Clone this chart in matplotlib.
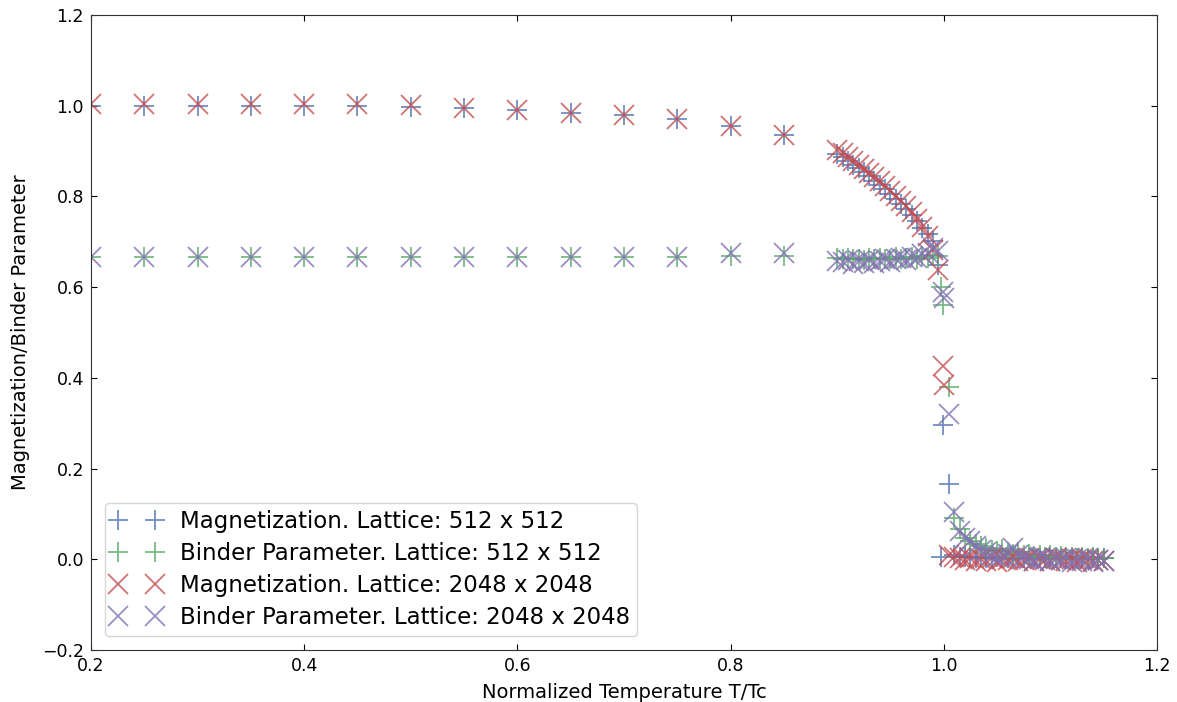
import matplotlib
matplotlib.use('Agg')
import matplotlib.pyplot as plt
import numpy as np

# Temperaturne tacke (normalizovano T/Tc)
t_coarse = [0.20, 0.25, 0.30, 0.35, 0.40, 0.45, 0.50, 0.55, 0.60, 0.65, 0.70, 0.75, 0.80, 0.85]
t_dense = [0.900, 0.905, 0.910, 0.915, 0.920, 0.925, 0.930, 0.935, 0.940, 0.945,
           0.950, 0.955, 0.960, 0.965, 0.970, 0.975, 0.980, 0.985, 0.990, 0.995]
t_crit = [0.997, 0.999, 1.000]
t_tail = [1.005, 1.010, 1.015, 1.020, 1.025, 1.030, 1.035, 1.040, 1.045, 1.050,
          1.055, 1.060, 1.065, 1.070, 1.075, 1.080, 1.085, 1.090, 1.095, 1.100,
          1.105, 1.110, 1.115, 1.120, 1.125, 1.130, 1.135, 1.140, 1.145, 1.150]

# Magnetizacija, resetka 512 x 512
mag512_coarse = [1.0, 1.0, 1.0, 1.0, 1.0, 1.0, 0.998, 0.995, 0.99, 0.985, 0.98, 0.97, 0.955, 0.935]
mag512_dense = [0.893, 0.886, 0.878, 0.870, 0.862, 0.853, 0.844, 0.835, 0.826, 0.816,
                0.806, 0.795, 0.784, 0.772, 0.758, 0.745, 0.730, 0.718, 0.702, 0.648]
mag512_crit = [0.005, 0.297, np.nan]
mag512_tail = [0.167, 0.010, 0.006, 0.004, 0.005, 0.003, 0.004, 0.002, 0.003, 0.004,
               0.002, 0.003, 0.001, 0.002, 0.003, 0.002, 0.001, 0.002, 0.002, 0.001,
               0.003, 0.002, 0.001, 0.002, 0.001, 0.002, 0.001, 0.002, 0.001, 0.002]

# Binderov parametar, resetka 512 x 512
binder512_coarse = [0.667, 0.667, 0.667, 0.667, 0.667, 0.667, 0.666, 0.666, 0.666, 0.666, 0.666, 0.667, 0.668, 0.668]
binder512_dense = [0.664, 0.662, 0.665, 0.661, 0.663, 0.660, 0.664, 0.662, 0.665, 0.661,
                   0.663, 0.666, 0.662, 0.664, 0.667, 0.663, 0.668, 0.665, 0.670, 0.668]
binder512_crit = [0.600, 0.560, np.nan]
binder512_tail = [0.380, 0.090, 0.066, 0.048, 0.040, 0.033, 0.030, 0.025, 0.020, 0.018,
                  0.022, 0.015, 0.012, 0.016, 0.010, 0.012, 0.008, 0.010, 0.006, 0.009,
                  0.005, 0.008, 0.004, 0.006, 0.003, 0.005, 0.002, 0.004, 0.003, 0.002]

# Magnetizacija, resetka 2048 x 2048
mag2048_coarse = [1.003, 1.003, 1.003, 1.003, 1.003, 1.003, 1.001, 0.995, 0.99, 0.985, 0.98, 0.97, 0.955, 0.935]
mag2048_dense = [0.903, 0.895, 0.887, 0.879, 0.870, 0.861, 0.852, 0.843, 0.833, 0.823,
                 0.813, 0.802, 0.791, 0.779, 0.766, 0.751, 0.733, 0.712, 0.683, 0.637]
mag2048_crit = [np.nan, 0.426, 0.385]
mag2048_tail = [0.010, 0.004, 0.002, -0.002, 0.003, -0.004, 0.001, -0.003, 0.002, -0.005,
                0.000, -0.002, 0.003, -0.004, -0.001, 0.002, -0.003, 0.001, -0.002, -0.004,
                0.002, -0.001, -0.003, 0.000, -0.005, 0.001, -0.002, -0.004, -0.001, -0.003]

# Binderov parametar, resetka 2048 x 2048
binder2048_coarse = [0.667, 0.667, 0.667, 0.667, 0.667, 0.667, 0.666, 0.666, 0.666, 0.666, 0.666, 0.667, 0.675, 0.675]
binder2048_dense = [0.658, 0.655, 0.660, 0.652, 0.657, 0.654, 0.659, 0.653, 0.658, 0.662,
                    0.656, 0.661, 0.664, 0.660, 0.667, 0.665, 0.672, 0.676, 0.686, 0.680]
binder2048_crit = [np.nan, 0.590, 0.575]
binder2048_tail = [0.320, 0.105, 0.062, 0.048, 0.040, 0.030, 0.020, 0.015, 0.010, 0.005,
                   0.008, 0.012, 0.025, 0.010, 0.004, 0.000, -0.003, 0.006, 0.002, -0.004,
                   0.001, -0.002, 0.003, -0.005, 0.000, -0.003, 0.002, -0.006, -0.001, -0.004]

labels = ['Magnetization. Lattice: 512 x 512',
          'Binder Parameter. Lattice: 512 x 512',
          'Magnetization. Lattice: 2048 x 2048',
          'Binder Parameter. Lattice: 2048 x 2048']

plt.rcParams['xtick.direction'] = 'in'
plt.rcParams['ytick.direction'] = 'in'
plt.rcParams['xtick.top'] = True
plt.rcParams['ytick.right'] = True
plt.rcParams['xtick.major.size'] = 4
plt.rcParams['ytick.major.size'] = 4

t_all = t_coarse + t_dense + t_crit + t_tail
serije = [
    (mag512_coarse + mag512_dense + mag512_crit + mag512_tail, '+', '#4C72B0'),
    (binder512_coarse + binder512_dense + binder512_crit + binder512_tail, '+', '#55A868'),
    (mag2048_coarse + mag2048_dense + mag2048_crit + mag2048_tail, 'x', '#C44E52'),
    (binder2048_coarse + binder2048_dense + binder2048_crit + binder2048_tail, 'x', '#8172B2'),
]

fig = plt.figure(figsize=(11.77, 7.02), dpi=100)
ax = fig.add_axes([0.0773, 0.0741, 0.9057, 0.9045])
for (vrijednosti, marker, boja), lab in zip(serije, labels):
    ax.plot(t_all, vrijednosti, linestyle='none', marker=marker, color=boja,
            markersize=15, markeredgewidth=1.3, alpha=0.8, label=lab)

ax.set_xlim(0.2, 1.2)
ax.set_ylim(-0.2, 1.2)
ax.set_xticks([0.2, 0.4, 0.6, 0.8, 1.0, 1.2])
ax.set_yticks([-0.2, 0.0, 0.2, 0.4, 0.6, 0.8, 1.0, 1.2])
ax.tick_params(labelsize=12.5, pad=5)
ax.set_xlabel('Normalized Temperature T/Tc', fontsize=14, labelpad=6)
ax.set_ylabel('Magnetization/Binder Parameter', fontsize=14, labelpad=9)
for s in ax.spines.values():
    s.set_color('#333333')

leg = ax.legend(loc='lower left', numpoints=2, fontsize=16.5, fancybox=True,
                handlelength=2.2, handletextpad=0.8, labelspacing=0.4,
                borderpad=0.3, borderaxespad=0.6)
leg.get_frame().set_edgecolor('#cccccc')

plt.savefig('out.png', dpi=100)
